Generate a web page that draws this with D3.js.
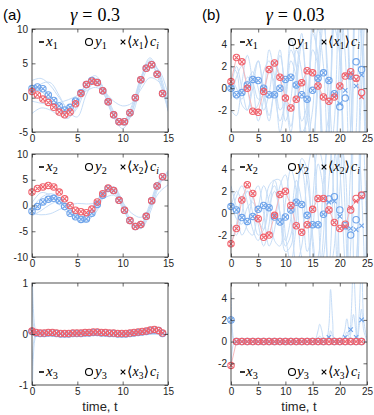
<!DOCTYPE html>
<html>
<head>
<meta charset="utf-8">
<script src="https://cdn.jsdelivr.net/npm/d3@7"></script>
<style>
  body { margin: 0; background: #fff; }
  svg { display: block; }
  .tick text { font-family: "Liberation Sans", Arial, sans-serif; font-size: 10px; fill: #262626; }
  .domain { display: none; }
  .tick line { stroke: #262626; stroke-width: 0.7; }
</style>
</head>
<body>
<svg id="chart"></svg>
<script>
// marker times
const tMarkL = [0, 0.6, 1.2, 1.8, 2.4, 3, 3.6, 4.2, 4.8, 5.4, 6, 6.6, 7.2, 7.8, 8.4, 9, 9.6, 10.2, 10.8, 11.4, 12, 12.6, 13.2, 13.8, 14.4];
const tMarkL3 = [0, 0.45, 0.9, 1.35, 1.8, 2.25, 2.7, 3.15, 3.6, 4.05, 4.5, 4.95, 5.4, 5.85, 6.3, 6.75, 7.2, 7.65, 8.1, 8.55, 9, 9.45, 9.9, 10.35, 10.8, 11.25, 11.7, 12.15, 12.6, 13.05, 13.5, 13.95, 14.4];
const tMarkR = [0, 1, 2, 3, 4, 5, 6, 7, 8, 9, 10, 11, 12, 13, 14, 15, 16, 17, 18, 19, 20, 21, 22, 23, 24];
// line times
const tLineL = [0, 1, 2, 3, 4, 5, 6, 7, 8, 9, 10, 11, 12, 13, 14, 15];
const tLineL3 = [0, 0.15, 0.3, 0.5, 0.8, 1.2, 15];
const tLineR = [0, 1, 2, 3, 4, 5, 6, 7, 8, 9, 10, 11, 12, 13, 14, 15, 16, 17, 18, 19, 20, 21, 22, 23, 24, 25];
const tLineR3 = [0, 0.3, 0.6, 1, 15, 15.5, 16, 16.3, 16.7, 17, 17.5, 18, 18.3, 18.7, 19, 20, 20.8, 21.3, 21.8, 22.1, 22.5, 22.9, 23.2, 23.6, 24, 24.4, 25];

// (a) gamma = 0.3
const redL1 = [0.9, 0.4, -0.2, -0.7, -1.4, -2.1, -2.5, -2.1, -0.9, 0.6, 1.9, 2.4, 2.2, 1.0, -0.6, -2.5, -3.5, -3.5, -2.2, 0.0, 2.6, 4.3, 4.8, 3.4, 0.6];
const blueL1 = [1.35, 1.55, 1.3, 0.4, -0.4, -1.2, -1.8, -1.4, -0.5, 0.7, 1.9, 2.5, 2.2, 1.0, -0.6, -2.5, -3.5, -3.5, -2.2, 0.0, 2.6, 4.3, 4.8, 3.4, 0.6];
const linesL1 = [
  [1.3, 1.5, 0.3, -1.3, -1.8, -0.3, 2.0, 2.6, 0.5, -2.6, -3.8, -1.6, 2.7, 5.0, 3.0, -1.5],
  [2.5, 2.8, 1.8, 0.0, -1.5, -0.7, 1.6, 2.8, 1.0, -2.3, -4.0, -2.0, 2.3, 5.5, 3.8, -1.0],
  [-2.3, -1.5, -1.8, -2.6, -3.0, -1.0, 2.2, 3.2, 1.0, -2.8, -4.5, -2.2, 2.8, 5.8, 3.5, -2.0],
  [-0.5, -0.8, -0.9, -0.7, -0.3, 0.3, 1.0, 1.5, 0.8, -0.5, -1.2, -0.8, 1.2, 2.9, 2.3, 0.0],
  [0.5, 2.0, 2.2, 0.3, -2.0, -2.8, 0.5, 2.5, 1.2, -2.0, -3.7, -2.6, 1.8, 4.6, 4.0, 0.5],
  [1.8, 1.0, -0.5, -2.0, -2.8, -1.5, 1.3, 2.0, 0.3, -2.7, -3.5, -1.2, 2.9, 5.2, 2.5, -1.8]
];
const redL2 = [2.6, 3.3, 3.6, 3.9, 3.6, 2.6, 1.3, 0.0, -0.9, -1.2, -1.4, -0.7, 0.7, 2.3, 3.4, 2.9, 1.0, -0.9, -2.9, -4.1, -3.7, -2.1, 0.9, 3.8, 5.6];
const blueL2 = [-1.1, -0.2, 0.7, 1.2, 1.4, 0.9, -0.2, -1.5, -2.2, -2.7, -2.6, -1.5, 0.2, 2.0, 3.3, 2.9, 1.0, -0.9, -2.9, -4.1, -3.7, -2.1, 0.9, 3.8, 5.6];
const linesL2 = [
  [-1.0, 0.5, 1.3, 1.0, -1.0, -2.4, -2.5, -0.3, 2.8, 3.0, -0.3, -3.5, -3.9, -0.2, 4.5, 6.3],
  [-0.5, 1.5, 2.3, 1.6, -0.6, -2.8, -3.2, -0.8, 2.5, 3.5, 0.3, -3.8, -4.3, -0.8, 4.2, 6.5],
  [-2.0, -1.0, 0.2, 0.8, -0.3, -1.8, -2.8, -1.5, 2.0, 3.6, 0.8, -3.2, -4.5, -1.5, 3.8, 6.8],
  [-1.5, -1.8, -1.6, -0.8, 0.0, 0.4, 0.3, 0.5, 1.5, 2.0, 0.5, -1.5, -2.3, -0.5, 2.5, 4.0],
  [0.5, 2.5, 2.0, 0.2, -1.5, -2.0, -1.9, 0.3, 3.0, 2.6, -0.6, -3.3, -3.5, 0.3, 4.8, 5.9],
  [-1.2, 0.0, 1.0, 1.2, 0.0, -2.2, -3.0, -1.0, 2.6, 3.2, -0.1, -3.6, -4.0, -0.3, 4.4, 6.0]
];
const redL3 = [0.06, 0.03, 0.02, 0.02, 0.03, 0.03, 0.02, 0.01, 0.01, 0.01, 0.02, 0.02, 0.02, 0.03, 0.03, 0.04, 0.04, 0.03, 0.03, 0.02, 0.02, 0.01, 0.01, 0.01, 0.02, 0.03, 0.04, 0.05, 0.06, 0.08, 0.09, 0.07, 0.02];
const blueL3 = [0.05, 0.02, 0.01, 0.01, 0.02, 0.02, 0.01, 0.0, 0.0, 0.0, 0.01, 0.01, 0.01, 0.02, 0.02, 0.03, 0.03, 0.02, 0.02, 0.01, 0.01, 0.0, 0.0, 0.0, 0.01, 0.02, 0.03, 0.04, 0.05, 0.07, 0.08, 0.07, 0.01];
const linesL3 = [
  [1.4, 0.5, 0.15, 0.03, 0.0, 0.0, 0.0],
  [-1.5, -0.45, -0.12, -0.02, 0.0, 0.0, 0.0],
  [0.9, 0.2, 0.05, 0.01, 0.0, 0.0, 0.0],
  [-0.7, -0.2, -0.05, 0.0, 0.0, 0.0, 0.0]
];

// (b) gamma = 0.03
const redR1 = [0.6, 2.8, 2.4, 0.0, -2.1, -2.2, -0.3, 1.7, 2.3, 1.0, -0.9, -1.8, -1.0, 0.5, 1.6, 1.4, 0.2, -0.8, -1.2, -0.8, 0.2, 1.1, 1.5, 0.9, -0.4];
const redR1est = [0.6, 2.8, 2.4, 0.0, -2.1, -2.2, -0.3, 1.7, 2.3, 1.0, -0.9, -1.8, -1.0, 0.5, 1.6, 1.4, 0.2, -0.8, -1.2, -0.8, 0.2, 1.2, 1.4, 0.8, -0.8];
const blueR1 = [0.0, -0.6, -0.4, 0.3, 0.8, 0.7, 0.0, -0.6, -0.6, 0.0, 0.8, 1.0, 0.3, -0.6, -1.0, -0.2, 0.9, 1.4, 0.7, -0.5, -1.7, -0.9, 1.1, 2.4, 1.7];
const blueR1est = [0.0, -0.6, -0.4, 0.3, 0.8, 0.7, 0.0, -0.6, -0.6, 0.0, 0.8, 1.0, 0.3, -0.6, -1.0, -0.2, 0.9, 1.4, 0.7, -0.5, -1.4, -0.2, 1.0, 0.2, 1.2];
const linesR1 = [
  [0, 2, 0, -2, 0, 2.5, 0, -2.5, 0, 3, 0, -3.5, 0, 4, 0, -5, 0, 6, 0, -7, 0, 8, 0, -10, 0, 12],
  [2, 1.5, -1.5, -2, 1, 2.5, -0.5, -3, 0.5, 3.5, -1, -4, 1, 5, -2, -6, 2, 7, -3, -8, 3, 10, -4, -12, 5, 14],
  [-2, -2.5, 0.5, 3, 0.5, -3, -1, 3.5, 1, -4, -1, 4.5, 2, -5, -2, 6, 2, -7, -3, 8, 3, -10, -4, 12, 5, -13],
  [1, 0, -1, 0.5, 1.5, 0, -2, -0.5, 2.5, 1, -3, -1, 3.5, 1.5, -4.5, -2, 5.5, 2, -7, -3, 8, 3, -10, -4, 12, 5],
  [-1, 1, 2, 0, -2, -1.5, 1.5, 2.5, -0.5, -3, -1, 3.5, 2, -4, -3, 5, 3, -6, -4, 7, 5, -8, -6, 10, 7, -12],
  [0.5, -1, -0.5, 1, 0.5, -1, -0.5, 1.5, 0.5, -2, -1, 2.5, 1, -3, -1.5, 3.5, 2, -4.5, -2.5, 5.5, 3, -6.5, -3.5, 8, 4, -9]
];
const redR2 = [-2.8, -1.4, 1.2, 2.6, 1.8, -0.5, -2.2, -2.0, -0.2, 1.7, 2.0, 0.7, -1.15, -1.75, -1.05, 0.35, 1.35, 1.35, 0.3, -0.85, -1.4, -1.0, 0.3, 1.35, 1.65];
const redR2est = [-2.8, -1.4, 1.2, 2.6, 1.8, -0.5, -2.2, -2.0, -0.2, 1.7, 2.0, 0.7, -1.15, -1.75, -1.05, 0.35, 1.35, 1.35, 0.3, -0.85, -1.4, -1.2, 0.5, 1.1, 1.5];
const blueR2 = [0.6, 0.3, -0.4, -0.75, -0.3, 0.35, 0.7, 0.5, -0.35, -0.8, -0.35, 0.3, 1.0, 0.8, -0.2, -1.05, -1.05, -0.1, 1.3, 1.5, 0.3, -1.15, -2.0, -0.6, 1.6];
const blueR2est = [0.6, 0.3, -0.4, -0.75, -0.3, 0.35, 0.7, 0.5, -0.35, -0.8, -0.35, 0.3, 1.0, 0.8, -0.2, -1.05, -1.05, -0.1, 1.0, 1.1, -0.3, -1.3, -1.4, -1.5, -1.15];
const linesR2 = [
  [0.5, 2, 1, -1.5, -2, 0.5, 2.5, 1, -2.5, -3, 1, 4, 2, -4, -5, 1, 6, 4, -6, -8, 2, 9, 6, -10, -12, 3],
  [-1, -2, 0, 2, 1.5, -1, -3, -1, 3, 3, -2, -4.5, -1, 5, 4, -3, -7, -2, 7, 6, -5, -10, -3, 11, 9, -6],
  [2.5, 0.5, -2, -1, 1.5, 2.5, 0, -3, -1.5, 2.5, 3.5, 0, -4.5, -3, 3.5, 6, 0, -7, -5, 5, 9, 0, -11, -8, 7, 13],
  [-3, -1, 1.5, 2, 0, -2, -1.5, 1.5, 2.5, 0, -3, -2, 2, 4, 0, -5, -4, 3, 7, 1, -8, -6, 4, 10, 2, -12],
  [1, -0.5, -1, 0.5, 1, -0.5, -1.5, 0.5, 2, 0, -2.5, -0.5, 3, 1, -3.5, -1.5, 4.5, 2, -5.5, -3, 7, 4, -8, -5, 10, 6],
  [0, 1.5, 2.5, 1, -1.5, -2.5, -0.5, 2.5, 3, 0, -3.5, -3, 1, 4.5, 3, -2, -6, -4, 3, 8, 4, -5, -10, -5, 7, 12]
];
const redR3 = [-2.2, 0, 0, 0, 0, 0, 0, 0, 0, 0, 0, 0, 0, 0, 0, 0, 0, 0, 0, 0, 0, 0, 0, 0, 0];
const blueR3 = [2.0, 0, 0, 0, 0, 0, 0, 0, 0, 0, 0, 0, 0, 0, 0, 0, 0, 0, 0, 0, 0, 0, 0, 0, 0];
const blueR3est = [2.0, 0, 0, 0, 0, 0, 0, 0, 0, 0, 0, 0, 0, 0, 0, 0, 0, 0, 0.4, 0, 0, 0.4, 1.1, 0.4, 2.0];
const linesR3 = [
  [2, 0.4, 0.05, 0, 0, 0.2, 1.0, 1.6, 1.0, 0.3, 0.1, 1.5, 4.8, 1.8, 0.3, 0.1, 0.8, 2.1, 0.6, 2.5, 7, 3, 0.3, 3, 8, 2, 0.2],
  [-2.3, -0.5, -0.05, 0, 0, 0, 0.3, 0.5, 0.3, 0.1, 0, 0.3, 1.0, 0.5, 0.1, 0, 0.3, 0.9, 0.3, 1.0, 2.5, 1.2, 0.1, 1.5, 3, 1, 0.1],
  [4.5, 0.8, 0.1, 0, 0, 0, 0, 0, 0, 0, 0, 0, 0, 0, 0, 0, 0, 0, 0, 0, 0, 0, 0, 0, 0, 0, 0]
];

const ticksL1 = [-5, 0, 5, 10];
const ticksL2 = [-10, -5, 0, 5, 10];
const ticksL3 = [-1, 0, 1];
const ticksR = [-2, 0, 2, 4];
const xTicksL = [0, 5, 10, 15];
const xTicksR = [0, 5, 10, 15, 20, 25];

const W = 374, H = 415;
const redC = "#f0636d", blueC = "#6fa4ea", lineC = "#c6ddf7", pinkC = "#f7b9bd";

const svg = d3.select("#chart").attr("width", W).attr("height", H);

const rowY = [[29, 132], [154, 257], [283, 385]];
const colX = [[32, 168], [231, 367]];

const panels = [
  { col: 0, row: 0, xd: [0, 15], yd: [-5, 10], yt: ticksL1, xt: xTicksL, tl: tLineL, lines: linesL1, tm: tMarkL, bo: blueL1, bx: blueL1, ro: redL1, rx: redL1, n: "1", pink: false },
  { col: 0, row: 1, xd: [0, 15], yd: [-10, 10], yt: ticksL2, xt: xTicksL, tl: tLineL, lines: linesL2, tm: tMarkL, bo: blueL2, bx: blueL2, ro: redL2, rx: redL2, n: "2", pink: false },
  { col: 0, row: 2, xd: [0, 15], yd: [-1, 1], yt: ticksL3, xt: xTicksL, tl: tLineL3, lines: linesL3, tm: tMarkL3, bo: blueL3, bx: blueL3, ro: redL3, rx: redL3, n: "3", pink: false },
  { col: 1, row: 0, xd: [0, 25], yd: [-4, 5.4], yt: ticksR, xt: xTicksR, tl: tLineR, lines: linesR1, tm: tMarkR, bo: blueR1, bx: blueR1est, ro: redR1, rx: redR1est, n: "1", pink: true },
  { col: 1, row: 1, xd: [0, 25], yd: [-4, 5.4], yt: ticksR, xt: xTicksR, tl: tLineR, lines: linesR2, tm: tMarkR, bo: blueR2, bx: blueR2est, ro: redR2, rx: redR2est, n: "2", pink: true },
  { col: 1, row: 2, xd: [0, 25], yd: [-4, 5.4], yt: ticksR, xt: xTicksR, tl: tLineR3, lines: linesR3, tm: tMarkR, bo: blueR3, bx: blueR3est, ro: redR3, rx: redR3, n: "3", pink: true }
];

function drawMarkers(g, x, y, tm, obs, est, color) {
  const r = 3.2, c = 2.2;
  g.selectAll(null).data(tm).enter().append("circle")
    .attr("cx", (d) => x(d))
    .attr("cy", (d, i) => y(obs[i]))
    .attr("r", r)
    .attr("fill", "none")
    .attr("stroke", color)
    .attr("stroke-width", 1.1);
  g.selectAll(null).data(tm).enter().append("path")
    .attr("d", function (d, i) {
      const px = x(d), py = y(est[i]);
      return "M" + (px - c) + "," + (py - c) + "L" + (px + c) + "," + (py + c) +
        "M" + (px - c) + "," + (py + c) + "L" + (px + c) + "," + (py - c);
    })
    .attr("stroke", color)
    .attr("stroke-width", 1.1)
    .attr("fill", "none");
}

function richText(g, x, y, parts, size) {
  const t = g.append("text").attr("x", x).attr("y", y)
    .attr("font-family", "'Liberation Serif', 'DejaVu Serif', serif")
    .attr("font-size", size).attr("fill", "#000");
  let shifted = 0;
  parts.forEach(function (p) {
    const s = t.append("tspan").text(p.t);
    if (p.it) s.attr("font-style", "italic");
    if (p.sub) {
      s.attr("font-size", size * 0.68).attr("dy", 3 - shifted);
      shifted = 3;
    } else if (shifted) {
      s.attr("dy", -shifted);
      shifted = 0;
    }
    if (p.dx) s.attr("dx", p.dx);
  });
  return t;
}

const fmt = (d) => String(d);

panels.forEach(function (p, k) {
  const [x0, x1] = colX[p.col];
  const [y0, y1] = rowY[p.row];
  const x = d3.scaleLinear().domain(p.xd).range([x0, x1]);
  const y = d3.scaleLinear().domain(p.yd).range([y1, y0]);
  const g = svg.append("g");

  const clipId = "clip" + k;
  svg.append("clipPath").attr("id", clipId).append("rect")
    .attr("x", x0).attr("y", y0).attr("width", x1 - x0).attr("height", y1 - y0);

  const lg = g.append("g").attr("clip-path", "url(#" + clipId + ")");
  const line = d3.line().x((d, i) => x(p.tl[i])).y((d) => y(d)).curve(d3.curveCatmullRom.alpha(0.5));
  lg.selectAll(null).data(p.lines).enter().append("path")
    .attr("d", line)
    .attr("fill", "none")
    .attr("stroke", lineC)
    .attr("stroke-width", 1);

  if (p.pink) {
    const pl = d3.line().x((d, i) => x(p.tm[i])).y((d) => y(d));
    lg.append("path").attr("d", pl(p.rx))
      .attr("fill", "none").attr("stroke", pinkC).attr("stroke-width", 1);
  }

  drawMarkers(g, x, y, p.tm, p.bo, p.bx, blueC);
  drawMarkers(g, x, y, p.tm, p.ro, p.rx, redC);

  // axes with inward ticks, mirrored on top/right
  g.append("g").attr("transform", "translate(" + x0 + ",0)")
    .call(d3.axisLeft(y).tickValues(p.yt).tickFormat(fmt).tickSizeInner(-3.5).tickSizeOuter(0).tickPadding(4));
  g.append("g").attr("transform", "translate(" + x1 + ",0)")
    .call(d3.axisRight(y).tickValues(p.yt).tickSizeInner(-3.5).tickSizeOuter(0).tickFormat(""));
  g.append("g").attr("transform", "translate(0," + y1 + ")")
    .call(d3.axisBottom(x).tickValues(p.xt).tickFormat(fmt).tickSizeInner(-3.5).tickSizeOuter(0).tickPadding(3));
  g.append("g").attr("transform", "translate(0," + y0 + ")")
    .call(d3.axisTop(x).tickValues(p.xt).tickSizeInner(-3.5).tickSizeOuter(0).tickFormat(""));
  g.append("rect").attr("x", x0).attr("y", y0).attr("width", x1 - x0).attr("height", y1 - y0)
    .attr("fill", "none").attr("stroke", "#262626").attr("stroke-width", 0.8);

  // legend
  const ly = p.row === 2 ? y1 - 9 : y0 + 17;
  const o = p.col === 0 ? [7, 14, 57, 63, 91, 95] : [9, 15, 61, 66, 93, 97];
  g.append("line").attr("x1", x0 + o[0]).attr("x2", x0 + o[0] + 5)
    .attr("y1", ly - 4).attr("y2", ly - 4).attr("stroke", "#000").attr("stroke-width", 1.6);
  richText(g, x0 + o[1], ly, [{ t: "x", it: true }, { t: p.n, sub: true }], 15);
  g.append("circle").attr("cx", x0 + o[2]).attr("cy", ly - 4).attr("r", 3.5)
    .attr("fill", "none").attr("stroke", "#000").attr("stroke-width", 1.1);
  richText(g, x0 + o[3], ly, [{ t: "y", it: true }, { t: p.n, sub: true }], 15);
  const cx = x0 + o[4], cy = ly - 4;
  g.append("path").attr("d", "M" + (cx - 2.3) + "," + (cy - 2.3) + "L" + (cx + 2.3) + "," + (cy + 2.3) +
    "M" + (cx - 2.3) + "," + (cy + 2.3) + "L" + (cx + 2.3) + "," + (cy - 2.3))
    .attr("stroke", "#000").attr("stroke-width", 1.1);
  richText(g, x0 + o[5], ly, [{ t: "\u27E8" }, { t: "x", it: true }, { t: p.n, sub: true }, { t: "\u27E9" }, { t: "c", it: true, dx: 1 }, { t: "i", it: true, sub: true }], 14);

  if (p.row === 2) {
    svg.append("text").attr("x", (x0 + x1) / 2).attr("y", 411)
      .attr("text-anchor", "middle")
      .attr("font-family", "'Liberation Sans', Arial, sans-serif")
      .attr("font-size", 13).attr("fill", "#262626")
      .text("time, t");
  }
});

// panel titles
const titles = [
  { lab: "(a)", lx: 3, tx: 95, g: "0.3" },
  { lab: "(b)", lx: 202, tx: 295, g: "0.03" }
];
titles.forEach(function (t) {
  svg.append("text").attr("x", t.lx).attr("y", 20)
    .attr("font-family", "'Liberation Sans', Arial, sans-serif")
    .attr("font-size", 15).attr("fill", "#000").text(t.lab);
  const tt = svg.append("text").attr("x", t.tx).attr("y", 21)
    .attr("text-anchor", "middle")
    .attr("font-family", "'Liberation Serif', serif")
    .attr("font-size", 18).attr("fill", "#000");
  tt.append("tspan").attr("font-style", "italic").text("\u03B3");
  tt.append("tspan").attr("dx", 5).text("=");
  tt.append("tspan").attr("dx", 5).text(t.g);
});
</script>
</body>
</html>
